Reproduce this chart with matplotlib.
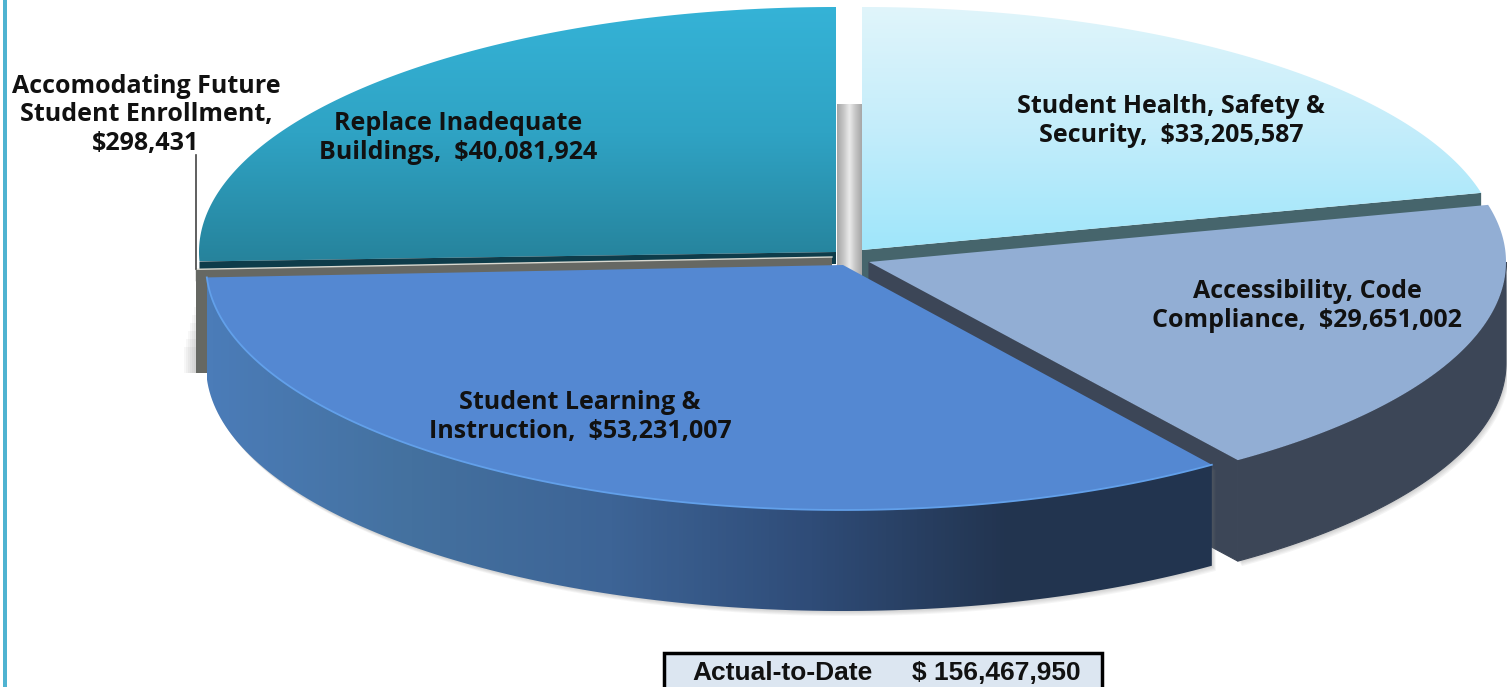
import numpy as np
import matplotlib
matplotlib.use("Agg")
import matplotlib.pyplot as plt
from matplotlib.colors import LinearSegmentedColormap
from matplotlib.patches import Polygon, Rectangle

# slices in clockwise order starting at 12 o'clock
names = ["Student Health, Safety &\nSecurity,", "Accessibility, Code\nCompliance,",
         "Student Learning &\nInstruction,", "Accomodating Future\nStudent Enrollment,",
         "Replace Inadequate\nBuildings,"]
values = [33205587, 29651002, 53231007, 298431, 40081924]
total_label = "Actual-to-Date"
total_value = "$ 156,467,950"

# rim centre x, y of each exploded slice, in pixels
centers = [(862, 250), (869, 262), (843, 265), (832, 257), (836, 252)]
radii_y = [243, 243, 245, 243, 245]
rx = 637
depth = 101

edges = np.concatenate([[0], np.cumsum(values)]) / np.sum(values) * 360

plt.rcParams['font.family'] = ['Open Sans', 'DejaVu Sans']
fig = plt.figure(figsize=(15.07, 6.87), dpi=100)
ax = fig.add_axes([0, 0, 1, 1])


def rim(i, a0, a1, n=120):
    t = np.radians(np.linspace(a0, a1, n))
    cx, cy = centers[i]
    return np.column_stack([cx + rx * np.sin(t), cy - radii_y[i] * np.cos(t)])


def top_face(i):
    return np.vstack([[centers[i]], rim(i, edges[i], edges[i + 1])])


def outer_wall(i, a0, a1):
    r = rim(i, a0, a1)
    return np.vstack([r, (r + [0, depth])[::-1]])


def cut_face(i, angle, d):
    tip = np.array(centers[i], dtype=float)
    end = rim(i, angle, angle, 1)[0]
    return np.array([tip, end, end + [0, d], tip + [0, d]])


def gradient_fill(points, colors, vertical=True, zorder=2):
    # gradient image clipped to a polygon, spanning the polygon's bounding box
    x0, y0 = points.min(axis=0)
    x1, y1 = points.max(axis=0)
    cmap = LinearSegmentedColormap.from_list("g", colors)
    ramp = np.linspace(0, 1, 256)
    ramp = ramp[:, None] if vertical else ramp[None, :]
    im = ax.imshow(ramp, cmap=cmap, extent=(x0, x1, y1, y0), aspect='auto',
                   interpolation='bilinear', zorder=zorder)
    clip = Polygon(points, closed=True, transform=ax.transData, fc='none', ec='none')
    ax.add_patch(clip)
    im.set_clip_path(clip)


def flat(points, color, zorder=2, alpha=1.0, seam=0.0):
    ax.add_patch(Polygon(points, closed=True, fc=color, ec=color if seam else 'none', lw=seam,
                         zorder=zorder, alpha=alpha))


# left page rule
ax.add_patch(Rectangle((3, 0), 4, 687, fc='#4fb3d1', ec='none', zorder=1))

# grey column seen through the gap between slices
col = np.array([[837, 104], [862, 104], [862, 285], [837, 285]], dtype=float)
gradient_fill(col, ['#a6a6a6', '#c4c4c4', '#ebebeb', '#c4c4c4', '#a6a6a6'], vertical=False, zorder=1.5)

# Replace Inadequate Buildings
gradient_fill(top_face(4), ['#35b3d7', '#2fa3c4', '#26839c'], zorder=2)
flat(cut_face(4, edges[4], 12), '#0e3c4a', zorder=2.1)

# Accomodating Future: thin grey sliver and its wall
flat(cut_face(3, edges[3], 12), '#666863', zorder=2.2)
lip = rim(3, edges[3], edges[3], 1)[0]
for k in range(1, 7):
    ax.add_patch(Rectangle((lip[0] - 2 * k, lip[1] + 30 + 8 * k), 30, 74 - 8 * k, fc='#777777',
                           ec='none', alpha=0.06, zorder=2.15))
ax.add_patch(Rectangle(lip, 16, 104, fc='#666863', ec='none', zorder=2.2))
ax.plot([lip[0], centers[3][0]], [lip[1], centers[3][1]], color='#d9d9d0', lw=1.0, zorder=2.25)
ax.plot([lip[0], lip[0]], [155, lip[1]], color='#444444', lw=1.2, zorder=2.3)

# Student Health, Safety & Security
flat(cut_face(0, edges[1], depth), '#46656c', zorder=2.4)
gradient_fill(top_face(0), ['#e0f5fb', '#c4edfa', '#9fe6fb'], zorder=2.5)

# Accessibility, Code Compliance
acc_wall = outer_wall(1, 90, edges[2])
for k in range(5, 0, -1):
    flat(acc_wall + [k * 0.8, k], '#777777', zorder=2.55, alpha=0.08)
flat(acc_wall, '#3c4657', zorder=2.6, seam=0.8)
flat(cut_face(1, edges[2], depth), '#3c4657', zorder=2.6, seam=0.8)
flat(top_face(1), '#92aed4', zorder=2.7)

# Student Learning & Instruction
learn_wall = outer_wall(2, edges[2], edges[3])
for k in range(5, 0, -1):
    flat(learn_wall + [k * 0.8, k], '#777777', zorder=2.75, alpha=0.07)
gradient_fill(learn_wall, ['#4b7cb8', '#44719f', '#3d6496', '#2f4c78', '#22344f', '#22344f'],
              vertical=False, zorder=2.8)
flat(top_face(2), '#5488d2', zorder=2.9)
edge = rim(2, edges[2], edges[3])
ax.plot(edge[:, 0], edge[:, 1], color='#62a0ea', lw=1.3, zorder=2.95)

# slice labels
label_pos = [(1171, 121), (1307, 306), (580, 417), (146, 115), (458, 138)]
for name, v, (x, y) in zip(names, values, label_pos):
    sep = "\n" if v < 1000000 else "  "
    ax.text(x, y, f"{name}{sep}${v:,}", ha='center', va='center', fontsize=18,
            fontweight='bold', color='#111111', linespacing=1.17, zorder=5)

# total box
ax.add_patch(Rectangle((664, 653), 438, 40, fc='#dce6f1', ec='black', lw=2.5, zorder=5))
ax.text(782, 673, total_label, ha='center', va='center', fontsize=19, fontweight='bold',
        family=['Liberation Sans'], color='#111111', zorder=6)
ax.text(996, 673, total_value, ha='center', va='center', fontsize=19, fontweight='bold',
        family=['Liberation Sans'], color='#111111', zorder=6)

ax.set_xlim(0, 1507)
ax.set_ylim(687, 0)
ax.axis('off')

plt.savefig('out.png', dpi=100)
